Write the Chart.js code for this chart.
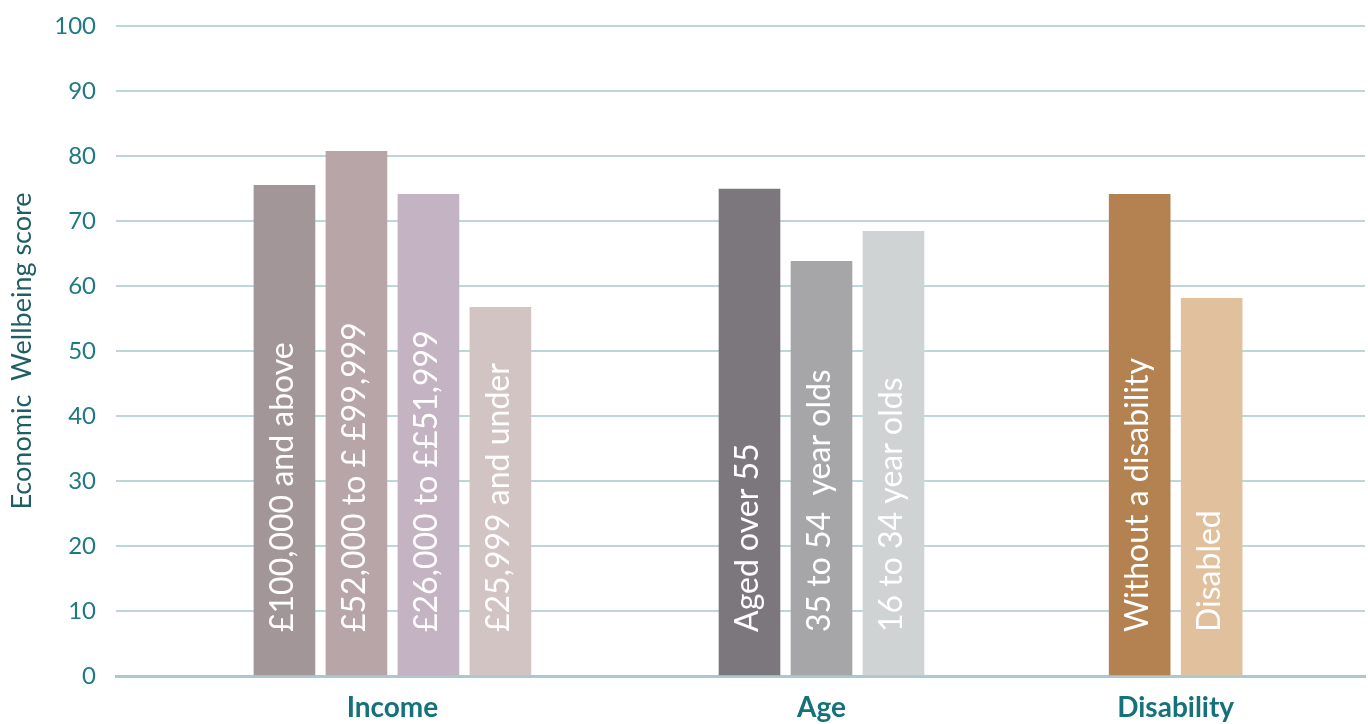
<!DOCTYPE html>
<html>
<head>
<meta charset="utf-8">
<title>Economic Wellbeing score</title>
<script src="https://cdn.jsdelivr.net/npm/chart.js@4.4.0/dist/chart.umd.min.js"></script>
<style>
  html, body { margin: 0; padding: 0; background: #fff; }
  #wrap { width: 1368px; height: 724px; position: relative; }
</style>
</head>
<body>
<div id="wrap"><canvas id="wellbeing-chart"></canvas></div>
<script>
'use strict';

// data
var groups = ['Income', 'Age', 'Disability'];

var incomeLabels = ['£100,000 and above', '£52,000 to £ £99,999', '£26,000 to ££51,999', '£25,999 and under'];
var incomeValues = [75.5, 80.7, 74.1, 56.7];

var ageLabels = ['Aged over 55', '35 to 54  year olds', '16 to 34 year olds'];
var ageValues = [74.9, 63.8, 68.4];

var disabilityLabels = ['Without a disability', 'Disabled'];
var disabilityValues = [74.1, 58.1];

var yTicks = [0, 10, 20, 30, 40, 50, 60, 70, 80, 90, 100];

(function () {

  var tealText = '#1e7a80';

  var incomeColors = ['#a39699', '#b8a5a8', '#c4b3c3', '#d1c4c3'];
  var ageColors = ['#7c777c', '#a6a5a8', '#cfd3d3'];
  var disabilityColors = ['#b38250', '#e1c09e'];

  // spacing between bars is one unit; extra empty space between the groups
  var groupGaps = [0, 2.46, 2.42];
  var axisMin = -2.34;
  var axisMax = 15.01;

  var sets = [
    { labels: incomeLabels, values: incomeValues, colors: incomeColors },
    { labels: ageLabels, values: ageValues, colors: ageColors },
    { labels: disabilityLabels, values: disabilityValues, colors: disabilityColors }
  ];

  var points = [];
  var barLabels = [];
  var barColors = [];
  var groupCenters = [];
  var pos = 0;

  for (var g = 0; g < sets.length; g++) {
    pos += groupGaps[g];
    var first = pos;
    for (var i = 0; i < sets[g].values.length; i++) {
      points.push({ x: pos, y: sets[g].values[i] });
      barLabels.push(sets[g].labels[i]);
      barColors.push(sets[g].colors[i]);
      pos += 1;
    }
    groupCenters.push((first + pos - 1) / 2);
  }

  // white rotated names inside each bar
  var barNames = {
    id: 'barNames',
    afterDatasetsDraw: function (chart) {
      var ctx = chart.ctx;
      var meta = chart.getDatasetMeta(0);
      var bottom = chart.chartArea.bottom;

      ctx.save();
      ctx.fillStyle = '#ffffff';
      ctx.font = '32px Lato, "Open Sans", sans-serif';
      ctx.textAlign = 'left';
      ctx.textBaseline = 'middle';
      meta.data.forEach(function (bar, idx) {
        ctx.save();
        ctx.translate(bar.x - 2, bottom - 44);
        ctx.rotate(-Math.PI / 2);
        ctx.fillText(barLabels[idx], 0, 0);
        ctx.restore();
      });
      ctx.restore();
    }
  };

  var ctx = document.getElementById('wellbeing-chart').getContext('2d');

  return new Chart(ctx, {
    type: 'bar',
    data: {
      datasets: [{
        label: 'Economic Wellbeing score',
        data: points,
        backgroundColor: barColors,
        barThickness: 61
      }]
    },
    options: {
      responsive: true,
      maintainAspectRatio: false,
      animation: false,
      layout: { padding: { top: 26, right: 3, left: 0, bottom: 0 } },
      plugins: {
        legend: { display: false },
        tooltip: { enabled: false }
      },
      scales: {
        x: {
          type: 'linear',
          min: axisMin,
          max: axisMax,
          offset: false,
          afterFit: function (scale) {
            scale.height = 48;
            scale.paddingLeft = 0;
            scale.paddingRight = 0;
          },
          afterBuildTicks: function (scale) {
            scale.ticks = groupCenters.map(function (v) { return { value: v }; });
          },
          grid: { display: false, drawTicks: false },
          border: { display: true, color: '#abc9cc', width: 3 },
          ticks: {
            autoSkip: false,
            maxRotation: 0,
            padding: 15,
            color: '#15727a',
            font: { family: 'Lato', size: 28, weight: 'bold' },
            callback: function (value, index) { return groups[index]; }
          }
        },
        y: {
          min: 0,
          max: 100,
          afterFit: function (scale) {
            scale.width = 116;
            scale.paddingTop = 0;
            scale.paddingBottom = 0;
          },
          afterBuildTicks: function (scale) {
            scale.ticks = yTicks.map(function (v) { return { value: v }; });
          },
          grid: { color: '#bdd6d8', lineWidth: 2, drawTicks: false },
          border: { display: false },
          ticks: {
            padding: 20,
            color: tealText,
            font: { family: 'Lato', size: 24 }
          },
          title: {
            display: true,
            text: 'Economic  Wellbeing score',
            color: '#1f5f64',
            padding: { top: 6, bottom: 0 },
            font: { family: 'Lato', size: 27 }
          }
        }
      }
    },
    plugins: [barNames]
  });

})();
</script>
</body>
</html>
